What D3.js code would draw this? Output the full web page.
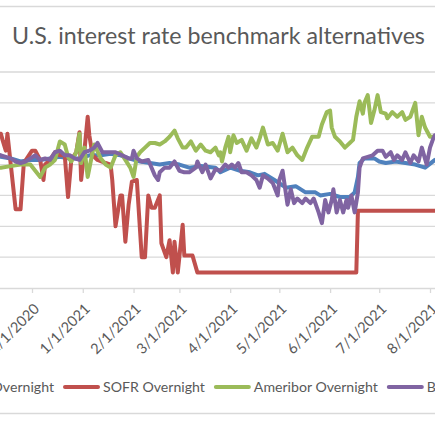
<!DOCTYPE html>
<html>
<head>
<meta charset="utf-8">
<script src="https://cdn.jsdelivr.net/npm/d3@7"></script>
<style>
  body { margin: 0; background: #fff; }
  svg { display: block; }
</style>
</head>
<body>
<svg id="chart" width="435" height="435"></svg>
<script>
// Series names and colours, in legend order
const seriesNames = ["LIBOR Overnight", "SOFR Overnight", "Ameribor Overnight", "BSBY Overnight"];
const seriesColors = ["#4F81BD", "#C0504D", "#9BBB59", "#8064A2"];

// Month ticks on the date axis
const tickDates = ["2020-11-01", "2020-12-01", "2021-01-01", "2021-02-01", "2021-03-01",
  "2021-04-01", "2021-05-01", "2021-06-01", "2021-07-01", "2021-08-01", "2021-09-01"];

// Value axis gridlines (percent)
const yTicks = [0, 0.02, 0.04, 0.06, 0.08, 0.10, 0.12, 0.14];

// Rates in percent
const liborData = [
  ["2020-11-08", 0.085], ["2020-11-12", 0.085], ["2020-11-18", 0.084], ["2020-11-24", 0.082],
  ["2020-11-30", 0.083], ["2020-12-06", 0.083], ["2020-12-12", 0.084], ["2020-12-18", 0.085],
  ["2020-12-24", 0.084], ["2020-12-30", 0.084], ["2021-01-05", 0.086], ["2021-01-12", 0.086],
  ["2021-01-18", 0.087], ["2021-01-24", 0.086], ["2021-01-29", 0.084], ["2021-02-05", 0.082],
  ["2021-02-11", 0.081], ["2021-02-17", 0.080], ["2021-02-23", 0.081], ["2021-03-01", 0.080],
  ["2021-03-07", 0.078], ["2021-03-14", 0.079], ["2021-03-23", 0.078], ["2021-03-26", 0.075],
  ["2021-04-01", 0.078], ["2021-04-07", 0.076], ["2021-04-13", 0.075], ["2021-04-18", 0.073],
  ["2021-04-22", 0.074], ["2021-04-28", 0.070], ["2021-05-05", 0.065], ["2021-05-11", 0.066],
  ["2021-05-17", 0.062], ["2021-05-23", 0.062], ["2021-05-26", 0.060], ["2021-06-01", 0.061],
  ["2021-06-07", 0.059], ["2021-06-13", 0.059], ["2021-06-16", 0.062], ["2021-06-18", 0.072],
  ["2021-06-19", 0.081], ["2021-06-22", 0.084], ["2021-06-28", 0.084], ["2021-07-01", 0.082],
  ["2021-07-05", 0.081], ["2021-07-11", 0.082], ["2021-07-17", 0.081], ["2021-07-23", 0.080],
  ["2021-07-29", 0.078], ["2021-08-04", 0.083], ["2021-08-08", 0.084]
];

const sofrData = [
  ["2020-11-08", 0.100], ["2020-11-12", 0.100], ["2020-11-13", 0.096], ["2020-11-15", 0.089],
  ["2020-11-16", 0.100], ["2020-11-21", 0.051], ["2020-11-24", 0.051], ["2020-11-26", 0.081],
  ["2020-12-01", 0.089], ["2020-12-03", 0.089], ["2020-12-06", 0.083], ["2020-12-08", 0.070],
  ["2020-12-09", 0.080], ["2020-12-12", 0.083], ["2020-12-15", 0.088], ["2020-12-18", 0.086],
  ["2020-12-21", 0.086], ["2020-12-23", 0.059], ["2020-12-25", 0.083], ["2020-12-28", 0.088],
  ["2020-12-30", 0.101], ["2020-12-31", 0.070], ["2021-01-02", 0.089], ["2021-01-04", 0.111],
  ["2021-01-05", 0.099], ["2021-01-07", 0.086], ["2021-01-10", 0.083], ["2021-01-15", 0.081],
  ["2021-01-18", 0.080], ["2021-01-19", 0.070], ["2021-01-21", 0.040], ["2021-01-24", 0.060],
  ["2021-01-25", 0.060], ["2021-01-27", 0.030], ["2021-01-29", 0.054], ["2021-01-31", 0.069],
  ["2021-02-03", 0.070], ["2021-02-06", 0.020], ["2021-02-08", 0.020], ["2021-02-10", 0.060],
  ["2021-02-12", 0.052], ["2021-02-14", 0.052], ["2021-02-17", 0.060], ["2021-02-18", 0.029],
  ["2021-02-21", 0.020], ["2021-02-23", 0.031], ["2021-02-25", 0.010], ["2021-02-26", 0.030],
  ["2021-02-28", 0.010], ["2021-03-03", 0.041], ["2021-03-04", 0.021], ["2021-03-09", 0.021],
  ["2021-03-12", 0.010], ["2021-06-17", 0.010], ["2021-06-18", 0.050], ["2021-08-10", 0.050]
];

const ameriborData = [
  ["2020-11-08", 0.078], ["2020-11-12", 0.078], ["2020-11-18", 0.079], ["2020-11-24", 0.080],
  ["2020-11-30", 0.080], ["2020-12-06", 0.072], ["2020-12-09", 0.078], ["2020-12-12", 0.080],
  ["2020-12-15", 0.083], ["2020-12-18", 0.095], ["2020-12-21", 0.093], ["2020-12-23", 0.085],
  ["2020-12-25", 0.082], ["2020-12-28", 0.088], ["2020-12-30", 0.100], ["2020-12-31", 0.081],
  ["2021-01-02", 0.091], ["2021-01-04", 0.072], ["2021-01-07", 0.088], ["2021-01-08", 0.093],
  ["2021-01-12", 0.084], ["2021-01-15", 0.080], ["2021-01-18", 0.078], ["2021-01-21", 0.086],
  ["2021-01-24", 0.088], ["2021-01-27", 0.083], ["2021-01-30", 0.078], ["2021-02-01", 0.072],
  ["2021-02-03", 0.085], ["2021-02-05", 0.088], ["2021-02-08", 0.091], ["2021-02-11", 0.094],
  ["2021-02-14", 0.094], ["2021-02-17", 0.093], ["2021-02-20", 0.095], ["2021-02-23", 0.098],
  ["2021-02-26", 0.102], ["2021-02-28", 0.097], ["2021-03-03", 0.091], ["2021-03-05", 0.091],
  ["2021-03-08", 0.095], ["2021-03-11", 0.089], ["2021-03-14", 0.093], ["2021-03-17", 0.089],
  ["2021-03-20", 0.088], ["2021-03-23", 0.091], ["2021-03-25", 0.086], ["2021-03-26", 0.088],
  ["2021-03-27", 0.082], ["2021-03-29", 0.091], ["2021-03-31", 0.098], ["2021-04-01", 0.088],
  ["2021-04-03", 0.099], ["2021-04-05", 0.094], ["2021-04-08", 0.096], ["2021-04-11", 0.089],
  ["2021-04-14", 0.097], ["2021-04-17", 0.091], ["2021-04-19", 0.097], ["2021-04-21", 0.104],
  ["2021-04-24", 0.093], ["2021-04-27", 0.094], ["2021-04-30", 0.089], ["2021-05-03", 0.100],
  ["2021-05-06", 0.088], ["2021-05-09", 0.091], ["2021-05-12", 0.086], ["2021-05-15", 0.083],
  ["2021-05-18", 0.091], ["2021-05-21", 0.098], ["2021-05-25", 0.098], ["2021-05-27", 0.106],
  ["2021-05-30", 0.114], ["2021-06-01", 0.115], ["2021-06-02", 0.104], ["2021-06-04", 0.098],
  ["2021-06-07", 0.095], ["2021-06-10", 0.091], ["2021-06-13", 0.094], ["2021-06-15", 0.096],
  ["2021-06-17", 0.111], ["2021-06-19", 0.121], ["2021-06-21", 0.113], ["2021-06-22", 0.120],
  ["2021-06-24", 0.125], ["2021-06-26", 0.107], ["2021-06-28", 0.115], ["2021-06-30", 0.125],
  ["2021-07-02", 0.114], ["2021-07-05", 0.113], ["2021-07-06", 0.110], ["2021-07-09", 0.114],
  ["2021-07-12", 0.111], ["2021-07-15", 0.114], ["2021-07-17", 0.109], ["2021-07-20", 0.111],
  ["2021-07-23", 0.120], ["2021-07-25", 0.099], ["2021-07-27", 0.111], ["2021-07-29", 0.104],
  ["2021-08-01", 0.098], ["2021-08-04", 0.098], ["2021-08-08", 0.100]
];

const bsbyData = [
  ["2020-11-08", 0.087], ["2020-11-12", 0.086], ["2020-11-18", 0.084], ["2020-11-21", 0.082],
  ["2020-11-24", 0.081], ["2020-11-27", 0.082], ["2020-11-30", 0.084], ["2020-12-03", 0.086],
  ["2020-12-06", 0.083], ["2020-12-09", 0.084], ["2020-12-12", 0.083], ["2020-12-15", 0.088],
  ["2020-12-18", 0.089], ["2020-12-21", 0.086], ["2020-12-24", 0.086], ["2020-12-27", 0.084],
  ["2020-12-30", 0.083], ["2021-01-02", 0.088], ["2021-01-05", 0.089], ["2021-01-08", 0.091],
  ["2021-01-10", 0.094], ["2021-01-13", 0.088], ["2021-01-16", 0.088], ["2021-01-21", 0.088],
  ["2021-01-25", 0.086], ["2021-01-29", 0.084], ["2021-01-31", 0.084], ["2021-02-01", 0.089],
  ["2021-02-03", 0.084], ["2021-02-06", 0.082], ["2021-02-10", 0.083], ["2021-02-12", 0.078],
  ["2021-02-14", 0.073], ["2021-02-16", 0.070], ["2021-02-17", 0.075], ["2021-02-20", 0.078],
  ["2021-02-23", 0.078], ["2021-02-26", 0.082], ["2021-03-01", 0.076], ["2021-03-04", 0.075],
  ["2021-03-07", 0.075], ["2021-03-11", 0.078], ["2021-03-12", 0.082], ["2021-03-15", 0.075],
  ["2021-03-17", 0.080], ["2021-03-20", 0.071], ["2021-03-23", 0.077], ["2021-03-26", 0.076],
  ["2021-03-29", 0.080], ["2021-03-31", 0.078], ["2021-04-02", 0.080], ["2021-04-04", 0.078],
  ["2021-04-06", 0.081], ["2021-04-08", 0.075], ["2021-04-11", 0.075], ["2021-04-14", 0.073],
  ["2021-04-17", 0.070], ["2021-04-19", 0.065], ["2021-04-21", 0.073], ["2021-04-24", 0.071],
  ["2021-04-27", 0.068], ["2021-04-30", 0.060], ["2021-05-01", 0.070], ["2021-05-03", 0.076],
  ["2021-05-06", 0.054], ["2021-05-08", 0.064], ["2021-05-10", 0.055], ["2021-05-12", 0.058],
  ["2021-05-15", 0.055], ["2021-05-17", 0.058], ["2021-05-20", 0.055], ["2021-05-22", 0.058],
  ["2021-05-25", 0.049], ["2021-05-27", 0.042], ["2021-05-29", 0.057], ["2021-05-31", 0.049],
  ["2021-06-02", 0.057], ["2021-06-03", 0.064], ["2021-06-05", 0.049], ["2021-06-07", 0.057],
  ["2021-06-09", 0.049], ["2021-06-11", 0.057], ["2021-06-12", 0.052], ["2021-06-14", 0.060],
  ["2021-06-16", 0.049], ["2021-06-18", 0.062], ["2021-06-19", 0.078], ["2021-06-21", 0.084],
  ["2021-06-24", 0.085], ["2021-06-27", 0.086], ["2021-06-30", 0.089], ["2021-07-03", 0.089],
  ["2021-07-05", 0.085], ["2021-07-08", 0.088], ["2021-07-10", 0.083], ["2021-07-12", 0.086],
  ["2021-07-15", 0.083], ["2021-07-17", 0.088], ["2021-07-20", 0.081], ["2021-07-22", 0.086],
  ["2021-07-25", 0.082], ["2021-07-27", 0.091], ["2021-07-30", 0.080], ["2021-08-01", 0.091],
  ["2021-08-03", 0.097], ["2021-08-04", 0.099], ["2021-08-08", 0.100]
];

const allSeries = [liborData, sofrData, ameriborData, bsbyData];
const titleText = "U.S. interest rate benchmark alternatives";
const fontFamily = "Lato, 'Open Sans', sans-serif";
const textColor = "#595959";
const gridColor = "#D9D9D9";

const parseDate = d3.timeParse("%Y-%m-%d");
const formatTick = d3.timeFormat("%-m/%-d/%Y");

const svg = d3.select("#chart");

// Plot area is wider than the window, so both ends get cut off
const x = d3.scaleTime()
  .domain([parseDate("2020-12-01"), parseDate("2021-08-01")])
  .range([32, 430]);

const y = d3.scaleLinear()
  .domain([0, 0.14])
  .range([288, 72]);

// Measure a text at a given size, used to fit fonts to the picture
const measure = (str, size) => {
  const t = svg.append("text")
    .attr("font-family", fontFamily)
    .attr("font-size", size)
    .text(str);
  const w = t.node().getComputedTextLength();
  t.remove();
  return w;
};

// Chart border lines (top and bottom edges visible)
svg.append("line")
  .attr("x1", 0).attr("x2", 435).attr("y1", 6.5).attr("y2", 6.5)
  .attr("stroke", gridColor).attr("stroke-width", 1.3);
svg.append("line")
  .attr("x1", 0).attr("x2", 435).attr("y1", 413.5).attr("y2", 413.5)
  .attr("stroke", gridColor).attr("stroke-width", 1.3);

// Title, fitted to its width in the picture
svg.append("text")
  .attr("x", 218.5)
  .attr("y", 44)
  .attr("text-anchor", "middle")
  .attr("font-family", fontFamily)
  .attr("font-size", 22 * 413 / measure(titleText, 22))
  .attr("fill", textColor)
  .text(titleText);

// Horizontal gridlines
svg.append("g")
  .selectAll("line")
  .data(yTicks.filter(d => d > 0))
  .join("line")
  .attr("x1", 0)
  .attr("x2", 435)
  .attr("y1", d => y(d))
  .attr("y2", d => y(d))
  .attr("stroke", gridColor)
  .attr("stroke-width", 1.3);

// Font sizes for axis and legend labels
const legendSize = 16 * 102 / measure("SOFR Overnight", 16);
const tickSize = 16 * 64 / measure("4/1/2021", 16);

// Date axis
const xAxis = d3.axisBottom(x)
  .tickValues(tickDates.map(parseDate))
  .tickFormat(formatTick)
  .tickSize(5)
  .tickSizeOuter(0);

const axisG = svg.append("g")
  .attr("transform", `translate(0,${y(0)})`)
  .call(xAxis);

axisG.select(".domain")
  .attr("d", "M-20,0.5H460")
  .attr("stroke", gridColor)
  .attr("stroke-width", 1.3);
axisG.selectAll(".tick line")
  .attr("stroke", gridColor)
  .attr("stroke-width", 1.3);
axisG.selectAll(".tick text")
  .attr("font-family", fontFamily)
  .attr("font-size", tickSize)
  .attr("fill", textColor)
  .attr("text-anchor", "end")
  .attr("x", 0)
  .attr("y", 0)
  .attr("dy", "0.36em")
  .attr("transform", "translate(4,18) rotate(-45)");

// Series lines, first series at the bottom
const line = d3.line()
  .x(d => x(parseDate(d[0])))
  .y(d => y(d[1]));

svg.append("g")
  .selectAll("path")
  .data(allSeries)
  .join("path")
  .attr("d", d => line(d))
  .attr("fill", "none")
  .attr("stroke", (d, i) => seriesColors[i])
  .attr("stroke-width", 4)
  .attr("stroke-linejoin", "round")
  .attr("stroke-linecap", "round");

// Legend, laid out left to right like Excel does
const legendY = 387;
const swatchW = 37;
const labelWidths = seriesNames.map(name => measure(name, legendSize));

const entryStart = [];
// SOFR swatch sits at x = 63 in the picture
entryStart[1] = 63;
entryStart[0] = entryStart[1] - (swatchW + 3 + labelWidths[0] + 9);
for (let i = 2; i < seriesNames.length; i++) {
  entryStart[i] = entryStart[i - 1] + swatchW + 3 + labelWidths[i - 1] + 9;
}

const entries = svg.append("g")
  .selectAll("g")
  .data(seriesNames)
  .join("g")
  .attr("transform", (d, i) => `translate(${entryStart[i]},${legendY})`);

entries.append("line")
  .attr("x1", 2)
  .attr("x2", swatchW - 2)
  .attr("stroke", (d, i) => seriesColors[i])
  .attr("stroke-width", 4)
  .attr("stroke-linecap", "round");

entries.append("text")
  .attr("x", swatchW + 3)
  .attr("dy", "0.36em")
  .attr("font-family", fontFamily)
  .attr("font-size", legendSize)
  .attr("fill", textColor)
  .text(d => d);
</script>
</body>
</html>
